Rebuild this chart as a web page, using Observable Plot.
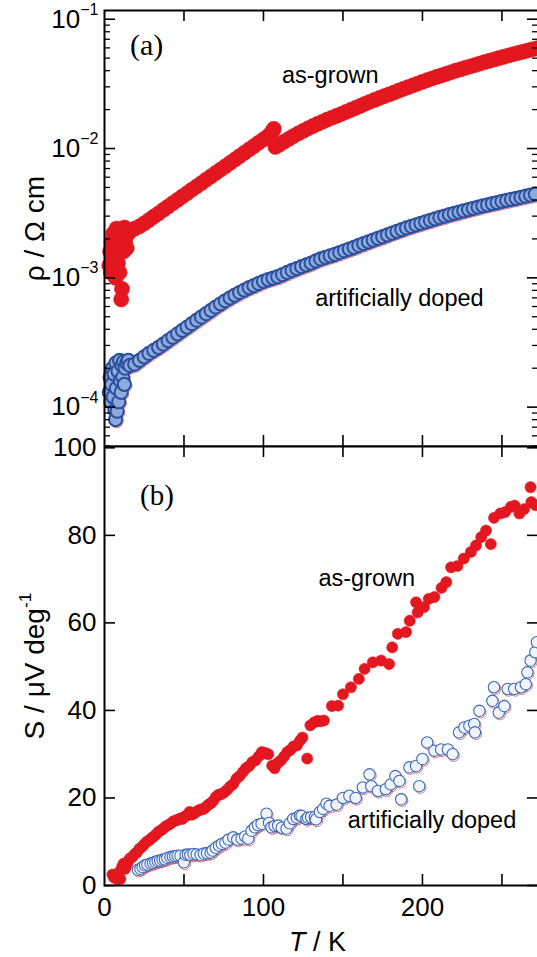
<!DOCTYPE html>
<html>
<head>
<meta charset="utf-8">
<script src="https://cdn.jsdelivr.net/npm/d3@7"></script>
<script src="https://cdn.jsdelivr.net/npm/@observablehq/plot@0.6"></script>
<style>
  html, body { margin: 0; padding: 0; background: #fff; overflow: hidden; }
  #chart svg { display: block; max-width: none !important; }
  #chart svg.bottom { overflow: visible !important; position: relative; }
</style>
</head>
<body>
<div id="chart"></div>
<script>
// ---------- (a) resistivity, as-grown (red filled) ----------
const rhoGrownT = [3,3.5,4,4.5,5,5.5,6,6.5,7,7.5,8,8.5,9,9.5,10,10.5,11,11.5,12,12.5,13,13.5,14,15,
  16,19,22,25,28,31,34,37,40,43,46,49,52,55,58,61,64,67,70,73,76,79,82,85,88,91,94,97,100,102,104,105.5,106.5,
  107.5,110,113,116,119,122,125,128,131,134,137,140,143,146,149,152,155,158,161,164,167,170,173,176,179,
  182,185,188,191,194,197,200,203,206,209,212,215,218,221,224,227,230,233,236,239,242,245,248,251,254,
  257,260,263,266,269,272];
const rhoGrown = [1.25e-3,1.6e-3,1.1e-3,1.9e-3,1.4e-3,2.2e-3,1.2e-3,1.7e-3,1.0e-3,2.4e-3,1.5e-3,1.3e-3,2.0e-3,1.1e-3,1.8e-3,6.8e-4,8.2e-4,2.1e-3,1.6e-3,2.45e-3,1.9e-3,2.4e-3,1.7e-3,2.2e-3,
  2.30e-3,2.40e-3,2.50e-3,2.64e-3,2.80e-3,2.97e-3,3.15e-3,3.35e-3,3.56e-3,3.78e-3,4.01e-3,4.26e-3,4.52e-3,4.80e-3,5.09e-3,5.41e-3,5.74e-3,6.10e-3,6.47e-3,6.87e-3,7.29e-3,7.74e-3,8.22e-3,8.73e-3,9.27e-3,9.84e-3,1.045e-2,1.11e-2,1.175e-2,1.22e-2,1.28e-2,1.35e-2,1.42e-2,
  1.03e-2,1.07e-2,1.13e-2,1.19e-2,1.25e-2,1.31e-2,1.37e-2,1.43e-2,1.49e-2,1.55e-2,1.61e-2,1.67e-2,1.73e-2,1.79e-2,1.85e-2,1.92e-2,1.99e-2,2.06e-2,2.14e-2,2.22e-2,2.30e-2,2.38e-2,2.46e-2,2.54e-2,2.62e-2,
  2.71e-2,2.80e-2,2.89e-2,2.98e-2,3.08e-2,3.18e-2,3.28e-2,3.38e-2,3.48e-2,3.58e-2,3.68e-2,3.78e-2,3.89e-2,4.00e-2,4.10e-2,4.21e-2,4.31e-2,4.42e-2,4.54e-2,4.65e-2,4.76e-2,4.88e-2,5.00e-2,5.12e-2,5.24e-2,
  5.36e-2,5.48e-2,5.60e-2,5.72e-2,5.84e-2,5.96e-2];

// ---------- (a) resistivity, artificially doped (blue open) ----------
const rhoDopedT = [3,3.5,4,4.5,5,5.5,6,6.5,7,7.2,7.5,8,8.5,9,9.5,10,10.5,11,11.5,12,12.5,13,14,15,
  16,19,22,25,28,31,34,37,40,43,46,49,52,55,58,61,64,67,70,73,76,79,82,85,88,91,94,97,100,103,106,109,
  112,115,118,121,124,127,130,133,136,139,142,145,148,151,154,157,160,163,166,169,172,175,178,181,184,
  187,190,193,196,199,202,205,208,211,214,217,220,223,226,229,232,235,238,241,244,247,250,253,256,259,
  262,265,268,271];
const rhoDoped = [1.3e-4,1.7e-4,1.1e-4,1.5e-4,2.0e-4,1.2e-4,1.8e-4,9.5e-5,8.0e-5,2.2e-4,1.4e-4,9.3e-5,1.9e-4,1.1e-4,2.3e-4,1.6e-4,1.3e-4,2.1e-4,1.7e-4,2.25e-4,1.5e-4,2.0e-4,2.2e-4,2.3e-4,
  2.10e-4,2.15e-4,2.30e-4,2.45e-4,2.60e-4,2.75e-4,2.90e-4,3.07e-4,3.27e-4,3.47e-4,3.69e-4,3.92e-4,4.16e-4,4.42e-4,4.70e-4,4.98e-4,5.28e-4,5.60e-4,5.95e-4,6.30e-4,6.65e-4,7.00e-4,7.35e-4,7.70e-4,8.05e-4,8.40e-4,8.70e-4,9.05e-4,9.40e-4,9.70e-4,9.95e-4,1.02e-3,
  1.06e-3,1.10e-3,1.14e-3,1.18e-3,1.22e-3,1.26e-3,1.30e-3,1.35e-3,1.40e-3,1.44e-3,1.48e-3,1.52e-3,1.57e-3,1.62e-3,1.67e-3,1.72e-3,1.78e-3,1.84e-3,1.90e-3,1.96e-3,2.02e-3,2.08e-3,2.15e-3,2.22e-3,2.29e-3,
  2.36e-3,2.43e-3,2.50e-3,2.57e-3,2.64e-3,2.71e-3,2.78e-3,2.86e-3,2.93e-3,3.00e-3,3.08e-3,3.15e-3,3.22e-3,3.30e-3,3.37e-3,3.45e-3,3.52e-3,3.60e-3,3.67e-3,3.75e-3,3.82e-3,3.90e-3,3.97e-3,4.05e-3,4.12e-3,
  4.20e-3,4.28e-3,4.36e-3,4.44e-3];

// ---------- (b) thermopower, as-grown (red filled) ----------
const sGrownT = [5,6,7,8,9,10,11,12,13,14,15,16,17.5,19,20.5,22,23.5,25,26.5,28,29.5,31,32.5,34,35.5,37,38.5,40,41.5,43,44.5,46,47.5,49,50.5,52,53.5,55,56.5,58,59.5,61,62.5,64,65.5,67,68.5,70,71.5,73,75,77,79,81,83,85,87,89,91,93,95,97,99,101,103,105.5,107,109,111,113,115,117,119,121,123,124.5,127.5,129.5,132,134,136,138,143,147,150,155,160,163.6,168.8,174,179,181,184.5,189.7,192,196,197,201,204,207.5,212,215,218,222,226,230.5,233.7,237,240,243,245,249,252,255.6,258,261,264,268,268.5,271];
const sGrown = [2.5,1.8,2.3,1.5,3.0,1.5,4.2,5.0,3.8,4.6,5.6,6.2,6.5,7.2,7.6,8.4,8.8,9.4,10.0,10.3,10.8,11.2,11.7,12.3,12.6,13.0,13.5,13.8,14.1,14.6,14.8,15.0,15.3,15.2,15.8,16.0,16.8,16.2,16.5,16.9,17.2,17.4,17.5,18.0,18.5,18.8,19.4,20.2,20.7,20.8,21.2,21.8,22.6,23.2,24.4,25.0,25.9,26.8,27.3,28.2,28.6,29.5,30.5,30.3,30.0,27.4,26.8,28.0,28.6,29.5,30.5,31.0,31.8,32.0,33.1,33.8,29.0,36.6,37.3,37.6,37.5,37.7,41.0,41.1,43.7,45.3,47.2,49.5,51.0,51.4,50.6,54.4,57.5,57.9,60.5,64.7,62.4,63.6,65.5,65.9,68.0,69.3,72.7,73.0,74.7,76.2,77.7,79.6,81.1,78.0,84.0,85.0,85.3,86.5,86.8,85.0,86.0,91.0,87.6,86.9];

// ---------- (b) thermopower, artificially doped (blue open) ----------
const sDopedT = [21,22.6,24,25.5,27,29,30.5,32,33.5,35,36.5,38,39.5,41.5,43,44.5,46,47.8,49.9,51,52.5,54,56,58,60.4,62.5,64.5,66.7,68,70,72,73.8,76,78,81,83.5,86.2,88.5,90.4,92.5,94.6,96.5,98.8,101.9,103.5,105,107,109.2,111.5,114.5,116.5,118.7,121,122.9,124,127,128,130,132.3,133,135.5,137.5,139.6,141.6,146,150,154,158,162.5,166.7,167.8,172,177,180,183,185.5,186.6,191.8,196,198,200,203,207.5,211.7,216,219,223,226.4,229.5,232.6,233,235.8,244,245,248,251.5,253.6,257.7,262,265,266,268,271,272];
const sDoped = [3.6,3.8,4.2,4.6,4.8,5.0,5.2,5.4,5.6,5.7,5.9,6.0,6.3,6.5,6.6,6.7,6.8,6.8,5.3,7.0,7.1,7.0,7.2,7.1,7.0,7.3,7.4,7.5,8.0,8.6,9.1,9.5,9.8,10.5,11.0,10.5,10.7,11.2,10.7,12.5,13.3,13.8,14.1,16.4,14.3,13.3,13.6,13.7,13.2,13.0,14.2,15.2,15.5,16.0,15.9,15.2,15.5,15.6,15.6,15.1,16.8,17.5,18.7,18.2,18.5,20.0,20.5,20.0,22.4,25.4,22.7,21.6,22.0,23.1,25.0,23.9,19.7,27.0,27.3,22.7,28.9,32.7,30.8,31.1,31.1,30.0,35.0,36.1,36.5,36.9,35.0,39.9,42.2,45.3,39.5,41.0,44.9,44.9,45.3,46.0,48.7,51.4,53.3,55.6];

// ---------- tick values ----------
const rhoTicks = [1e-4, 1e-3, 1e-2, 1e-1];
const sTicks = [0, 20, 40, 60, 80, 100];
const tTicks = [50, 100, 150, 200, 250];
const tLabels = [0, 100, 200];

const rows = (xs, ys) => xs.map((x, i) => ({T: x, v: ys[i]}));

const W = 540, mL = 104, mR = 2;
const plotW = W - mL - mR;
const FONT = "'Liberation Sans', Arial, Helvetica, sans-serif";
const SERIF = "'Liberation Serif', 'Times New Roman', serif";
const RED = "#e3171f";

const minorRho = [];
for (let k = -5; k <= -1; k++) for (let m = 2; m <= 9; m++) minorRho.push(m * Math.pow(10, k));

function frameTicks(plotH, xt, yt, minorY, majorLen, minorLen) {
  return [
    Plot.tickX(xt, {x: d => d, insetBottom: plotH - majorLen, stroke: "#000", strokeWidth: 1.6}),
    Plot.tickX(xt, {x: d => d, insetTop: plotH - majorLen, stroke: "#000", strokeWidth: 1.6}),
    Plot.tickY(yt, {y: d => d, insetRight: plotW - majorLen, stroke: "#000", strokeWidth: 1.6}),
    Plot.tickY(yt, {y: d => d, insetLeft: plotW - majorLen, stroke: "#000", strokeWidth: 1.6}),
    ...(minorY ? [
      Plot.tickY(minorY, {y: d => d, insetRight: plotW - minorLen, stroke: "#000", strokeWidth: 1.3}),
      Plot.tickY(minorY, {y: d => d, insetLeft: plotW - minorLen, stroke: "#000", strokeWidth: 1.3})
    ] : [])
  ];
}

// Top panel
const H1 = 446, mT1 = 10, mB1 = 0;
const topPlot = Plot.plot({
  width: W, height: H1, marginLeft: mL, marginRight: mR, marginTop: mT1, marginBottom: mB1,
  style: {fontFamily: FONT, color: "#000", background: "#fff", overflow: "hidden"},
  x: {domain: [0, 273], axis: null},
  y: {type: "log", domain: [4.96e-5, 0.1168]},
  marks: [
    Plot.dot(rows(rhoGrownT, rhoGrown), {x: "T", y: "v", r: 7.6, fill: RED, stroke: RED, strokeWidth: 0.5}),
    Plot.dot(rows(rhoDopedT, rhoDoped), {x: "T", y: "v", r: 6.6, fill: "none", stroke: "#c04050", strokeWidth: 0.7, dx: 1, dy: 1.5}),
    Plot.dot(rows(rhoDopedT, rhoDoped), {x: "T", y: "v", r: 6.6, fill: "#8eaadb", stroke: "#2a4f9f", strokeWidth: 2}),
    ...frameTicks(H1 - mT1 - mB1, tTicks, rhoTicks, minorRho, 11, 6),
    Plot.frame({stroke: "#000", strokeWidth: 2}),
    Plot.axisY({ticks: rhoTicks, tickFormat: d => "10^{\u2212" + (-Math.round(Math.log10(d))) + "}", tickSize: 0, tickPadding: 6, fontSize: 26, label: null}),
    Plot.text(["\u03c1 / \u03a9 cm"], {frameAnchor: "left", textAnchor: "middle", lineAnchor: "middle", dx: -69, rotate: -90, fontSize: 28}),
    Plot.text([{t: "(a)", x: 26.5, y: 0.063}], {x: "x", y: "y", text: "t", fontSize: 30, fontFamily: SERIF}),
    Plot.text([{t: "as-grown", x: 142, y: 0.0367}], {x: "x", y: "y", text: "t", fontSize: 23.5}),
    Plot.text([{t: "artificially doped", x: 185.5, y: 6.9e-4}], {x: "x", y: "y", text: "t", fontSize: 23.5})
  ]
});

// Bottom panel
const H2 = 511, mT2 = 0, mB2 = 72;
const bottomPlot = Plot.plot({
  width: W, height: H2, marginLeft: mL, marginRight: mR, marginTop: mT2, marginBottom: mB2,
  style: {fontFamily: FONT, color: "#000", background: "none", overflow: "visible"},
  x: {domain: [0, 273]},
  y: {domain: [0, 100.3]},
  marks: [
    Plot.dot(rows(sGrownT, sGrown), {x: "T", y: "v", r: 5.6, fill: RED, stroke: RED, strokeWidth: 0.5}),
    Plot.dot(rows(sDopedT, sDoped), {x: "T", y: "v", r: 5.7, fill: "none", stroke: "#c04050", strokeWidth: 0.7, dx: 1, dy: 1.5}),
    Plot.dot(rows(sDopedT, sDoped), {x: "T", y: "v", r: 5.7, fill: "#f0f5fc", stroke: "#3f68b8", strokeWidth: 1.1}),
    ...frameTicks(H2 - mT2 - mB2, tTicks, sTicks, null, 11, 6),
    Plot.frame({stroke: "#000", strokeWidth: 2}),
    Plot.axisY({ticks: sTicks, tickSize: 0, tickPadding: 8, fontSize: 26, label: null}),
    Plot.axisX({ticks: tLabels, tickSize: 0, tickPadding: 12, fontSize: 26, label: null}),
    Plot.text(["S / \u03bcV deg^{-1}"], {frameAnchor: "left", textAnchor: "middle", lineAnchor: "middle", dx: -69, rotate: -90, fontSize: 28}),
    Plot.text(["*T* / K"], {frameAnchor: "bottom", textAnchor: "middle", lineAnchor: "middle", dx: -4, dy: 57, fontSize: 27}),
    Plot.text([{t: "(b)", x: 33, y: 89}], {x: "x", y: "y", text: "t", fontSize: 29, fontFamily: SERIF}),
    Plot.text([{t: "as-grown", x: 165, y: 70.2}], {x: "x", y: "y", text: "t", fontSize: 23.5}),
    Plot.text([{t: "artificially doped", x: 206, y: 14.9}], {x: "x", y: "y", text: "t", fontSize: 23.5})
  ]
});

// rich text: ^{...} superscript, *...* italic
const NS = "http://www.w3.org/2000/svg";
function richify(svg) {
  svg.querySelectorAll("text").forEach(t => {
    const s = t.textContent;
    if (!/\^\{|\*/.test(s)) return;
    while (t.firstChild) t.removeChild(t.firstChild);
    const re = /\^\{([^}]*)\}|\*([^*]*)\*|([^^*]+)/g;
    let m;
    while ((m = re.exec(s))) {
      const ts = document.createElementNS(NS, "tspan");
      if (m[1] != null) {
        ts.textContent = m[1];
        ts.setAttribute("font-size", "0.62em");
        ts.setAttribute("dy", "-0.8em");
      } else if (m[2] != null) {
        ts.textContent = m[2];
        ts.setAttribute("font-style", "italic");
      } else {
        ts.textContent = m[3];
      }
      t.appendChild(ts);
    }
  });
}
richify(topPlot);
richify(bottomPlot);
bottomPlot.classList.add("bottom");

const chart = document.getElementById("chart");
chart.appendChild(topPlot);
chart.appendChild(bottomPlot);
</script>
</body>
</html>
